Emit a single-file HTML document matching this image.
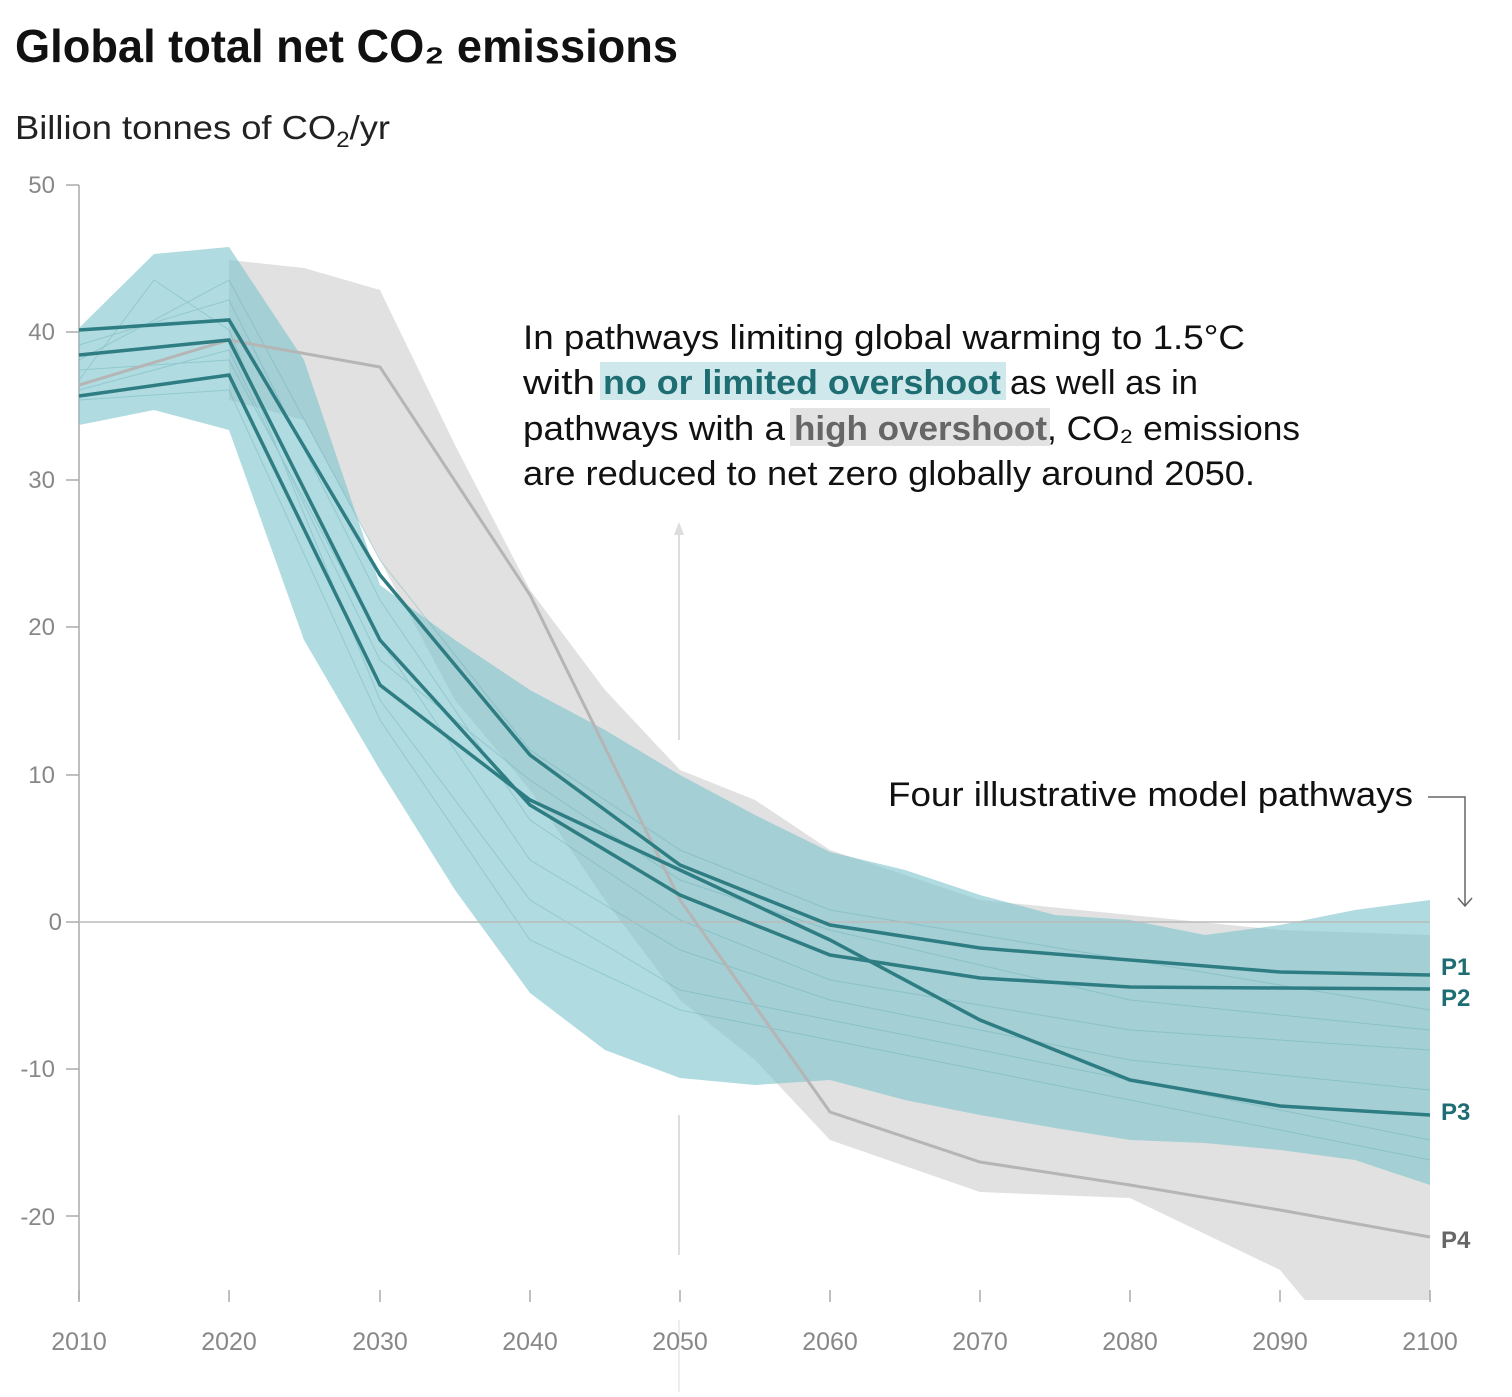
<!DOCTYPE html>
<html><head><meta charset="utf-8"><style>
body{margin:0;background:#fff;width:1512px;height:1392px;overflow:hidden;font-family:"Liberation Sans",sans-serif}
</style></head><body>
<svg width="1512" height="1392" viewBox="0 0 1512 1392" xmlns="http://www.w3.org/2000/svg" font-family="Liberation Sans, sans-serif">
<text x="15" y="62" font-size="46" font-weight="bold" fill="#111" textLength="663" lengthAdjust="spacingAndGlyphs">Global total net CO₂ emissions</text>
<text x="15" y="139" font-size="33" fill="#222" textLength="375" lengthAdjust="spacingAndGlyphs">Billion tonnes of CO<tspan font-size="22" dy="8">2</tspan><tspan dy="-8">/yr</tspan></text>
<g font-size="24" fill="#888" text-anchor="end">
<text x="55" y="193">50</text><text x="55" y="340">40</text><text x="55" y="488">30</text><text x="55" y="635">20</text><text x="55" y="783">10</text><text x="62" y="930">0</text><text x="55" y="1077">-10</text><text x="55" y="1225">-20</text>
</g>
<g stroke="#aaa" stroke-width="1.5">
<line x1="79" y1="185" x2="79" y2="1300"/>
<line x1="66" y1="185" x2="79" y2="185"/><line x1="66" y1="332" x2="79" y2="332"/><line x1="66" y1="480" x2="79" y2="480"/><line x1="66" y1="627" x2="79" y2="627"/><line x1="66" y1="775" x2="79" y2="775"/><line x1="66" y1="922" x2="79" y2="922"/><line x1="66" y1="1069" x2="79" y2="1069"/><line x1="66" y1="1216" x2="79" y2="1216"/>
</g>
<line x1="679" y1="530" x2="679" y2="740" stroke="#ddd" stroke-width="2"/>
<polygon points="674,535 679,522 684,535" fill="#ddd"/>
<line x1="679" y1="1115" x2="679" y2="1255" stroke="#ddd" stroke-width="2"/>
<line x1="679" y1="1320" x2="679" y2="1392" stroke="#eee" stroke-width="2"/>
<polygon fill="#dcdcdc" opacity="0.85" points="229,260 304,268 380,290 455,445 530,590 605,690 680,770 755,800 830,850 980,900 1130,915 1280,930 1430,935 1430,1300 1305,1300 1280,1270 1130,1198 980,1192 830,1140 755,1060 680,1000 605,900 530,790 455,700 380,560 304,420 229,400"/>
<polygon fill="#7cc3cb" opacity="0.6" points="79,328 154,254 229,247 304,360 380,585 455,640 530,690 605,730 680,775 755,815 830,852 905,870 980,895 1055,915 1130,920 1205,935 1280,925 1355,910 1430,900 1430,1185 1355,1160 1280,1150 1205,1143 1130,1140 1055,1128 980,1115 905,1100 830,1080 755,1085 680,1078 605,1050 530,993 455,890 380,770 304,640 229,430 154,410 79,425"/>
<g fill="none" stroke="#5aa9b2" stroke-width="1" opacity="0.35">
<polyline points="79,345 229,300 380,600 530,820 680,920 830,980 1130,1030 1430,1050"/>
<polyline points="79,370 229,360 380,640 530,860 680,950 830,1000 1130,1060 1430,1090"/>
<polyline points="79,380 154,280 229,330 380,700 530,900 680,990 830,1020 1130,1080 1430,1140"/>
<polyline points="79,400 229,390 380,720 530,940 680,1010 830,1040 1130,1100 1430,1160"/>
<polyline points="79,360 229,280 380,560 530,750 680,850 830,910 1130,960 1430,1010"/>
<polyline points="79,390 229,350 380,660 530,780 680,880 830,930 1130,1000 1430,1030"/>
</g>
<line x1="79" y1="922" x2="1430" y2="922" stroke="#bbb" stroke-width="1.5"/>
<polyline fill="none" stroke="#b5b5b5" stroke-width="3" points="79,385 229,340 380,367 530,595 680,900 830,1112 980,1162 1130,1185 1280,1210 1430,1237"/>
<g fill="none" stroke="#2e7d83" stroke-width="3.5">
<polyline points="79,330 229,320 380,575 530,755 680,865 830,925 980,948 1130,960 1280,972 1430,975"/>
<polyline points="79,355 229,340 380,640 530,805 680,895 830,955 980,978 1130,987 1280,988 1430,989"/>
<polyline points="79,396 229,375 380,685 530,800 680,870 830,940 980,1020 1130,1080 1280,1106 1430,1115"/>
</g>
<g font-size="24" font-weight="bold">
<text x="1441" y="975" fill="#1e6d73">P1</text>
<text x="1441" y="1006" fill="#1e6d73">P2</text>
<text x="1441" y="1120" fill="#1e6d73">P3</text>
<text x="1441" y="1248" fill="#666">P4</text>
</g>
<g stroke="#aaa" stroke-width="1.5">
<line x1="79" y1="1290" x2="79" y2="1302"/><line x1="229" y1="1290" x2="229" y2="1302"/><line x1="380" y1="1290" x2="380" y2="1302"/><line x1="530" y1="1290" x2="530" y2="1302"/><line x1="680" y1="1290" x2="680" y2="1302"/><line x1="830" y1="1290" x2="830" y2="1302"/><line x1="980" y1="1290" x2="980" y2="1302"/><line x1="1130" y1="1290" x2="1130" y2="1302"/><line x1="1280" y1="1290" x2="1280" y2="1302"/><line x1="1430" y1="1290" x2="1430" y2="1302"/>
</g>
<g font-size="25" fill="#888" text-anchor="middle">
<text x="79" y="1350">2010</text><text x="229" y="1350">2020</text><text x="380" y="1350">2030</text><text x="530" y="1350">2040</text><text x="680" y="1350">2050</text><text x="830" y="1350">2060</text><text x="980" y="1350">2070</text><text x="1130" y="1350">2080</text><text x="1280" y="1350">2090</text><text x="1430" y="1350">2100</text>
</g>
<rect x="600" y="362" width="406" height="38" fill="#cfe8eb"/>
<rect x="790" y="408" width="260" height="38" fill="#e3e3e3"/>
<g font-size="34" fill="#111">
<text x="523" y="349" textLength="722" lengthAdjust="spacingAndGlyphs">In pathways limiting global warming to 1.5°C</text>
<text x="523" y="394"><tspan textLength="72" lengthAdjust="spacingAndGlyphs">with</tspan><tspan x="603" font-weight="bold" fill="#1e6d73" textLength="398" lengthAdjust="spacingAndGlyphs">no or limited overshoot</tspan><tspan x="1010" textLength="188" lengthAdjust="spacingAndGlyphs">as well as in</tspan></text>
<text x="523" y="440"><tspan textLength="262" lengthAdjust="spacingAndGlyphs">pathways with a</tspan><tspan x="794" font-weight="bold" fill="#666" textLength="253" lengthAdjust="spacingAndGlyphs">high overshoot</tspan><tspan x="1047" textLength="253" lengthAdjust="spacingAndGlyphs">, CO₂ emissions</tspan></text>
<text x="523" y="485" textLength="732" lengthAdjust="spacingAndGlyphs">are reduced to net zero globally around 2050.</text>
<text x="888" y="806" textLength="525" lengthAdjust="spacingAndGlyphs">Four illustrative model pathways</text>
</g>
<polyline fill="none" stroke="#666" stroke-width="1.5" points="1428,797 1465,797 1465,905"/>
<polyline fill="none" stroke="#666" stroke-width="1.5" points="1458,898 1465,906 1472,898"/>
</svg>
</body></html>
